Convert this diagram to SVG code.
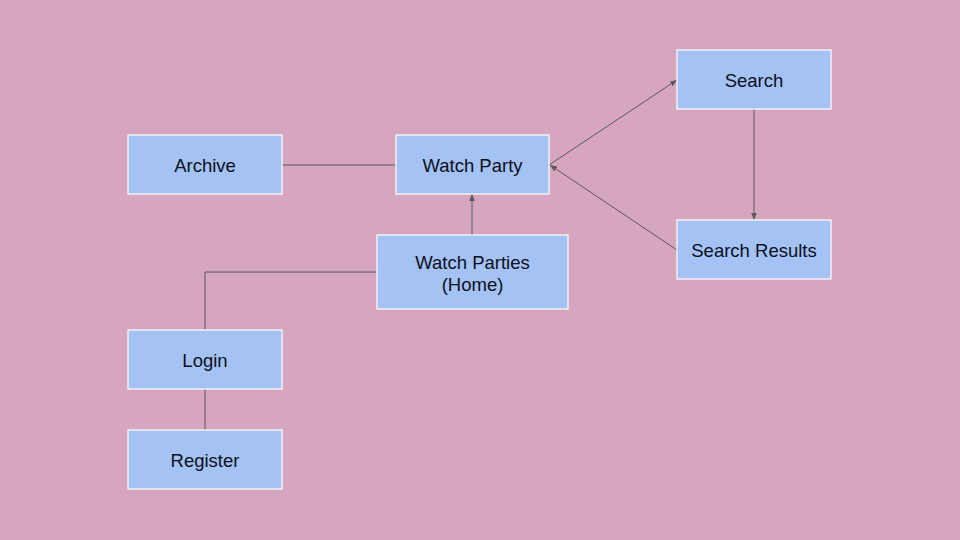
<svg xmlns="http://www.w3.org/2000/svg" width="960" height="540" viewBox="0 0 960 540">
<defs>
<style>
.box{fill:#a4c2f4;stroke:#ffffff;stroke-width:1.2}
.lbl{font-family:"Liberation Sans",Arial,sans-serif;font-size:18.5px;fill:#0b1020;text-anchor:middle}
.ln{fill:none;stroke:#595959;stroke-width:1}
</style>
<marker id="ah" viewBox="0 0 10 10" refX="10" refY="5" markerWidth="7" markerHeight="7" orient="auto" markerUnits="userSpaceOnUse">
<path d="M0,1 L10,5 L0,9 Z" fill="#595959"/>
</marker>
</defs>
<rect width="960" height="540" fill="#d5a6bd"/>
<g id="connectors">
<path class="ln" d="M282,165 L396,165"/>
<path class="ln" d="M549,165 L677,80" marker-end="url(#ah)"/>
<path class="ln" d="M677,250 L550,165" marker-end="url(#ah)"/>
<path class="ln" d="M754,109 L754,220" marker-end="url(#ah)"/>
<path class="ln" d="M472,235 L472,194" marker-end="url(#ah)"/>
<path class="ln" d="M377,272 L205,272 L205,330"/>
<path class="ln" d="M205,389 L205,430"/>
</g>
<g id="archive"><rect class="box" x="128" y="135" width="154" height="59"/><text class="lbl" x="205" y="171.5">Archive</text></g>
<g id="watch-party"><rect class="box" x="396" y="135" width="153" height="59"/><text class="lbl" x="472.5" y="171.5">Watch Party</text></g>
<g id="search"><rect class="box" x="677" y="50" width="154" height="59"/><text class="lbl" x="754" y="86.5">Search</text></g>
<g id="search-results"><rect class="box" x="677" y="220" width="154" height="59"/><text class="lbl" x="754" y="256.5">Search Results</text></g>
<g id="watch-parties-home"><rect class="box" x="377" y="235" width="191" height="74"/><text class="lbl" x="472.5" y="268.5">Watch Parties</text><text class="lbl" x="472.5" y="291">(Home)</text></g>
<g id="login"><rect class="box" x="128" y="330" width="154" height="59"/><text class="lbl" x="205" y="366.5">Login</text></g>
<g id="register"><rect class="box" x="128" y="430" width="154" height="59"/><text class="lbl" x="205" y="466.5">Register</text></g>
</svg>
